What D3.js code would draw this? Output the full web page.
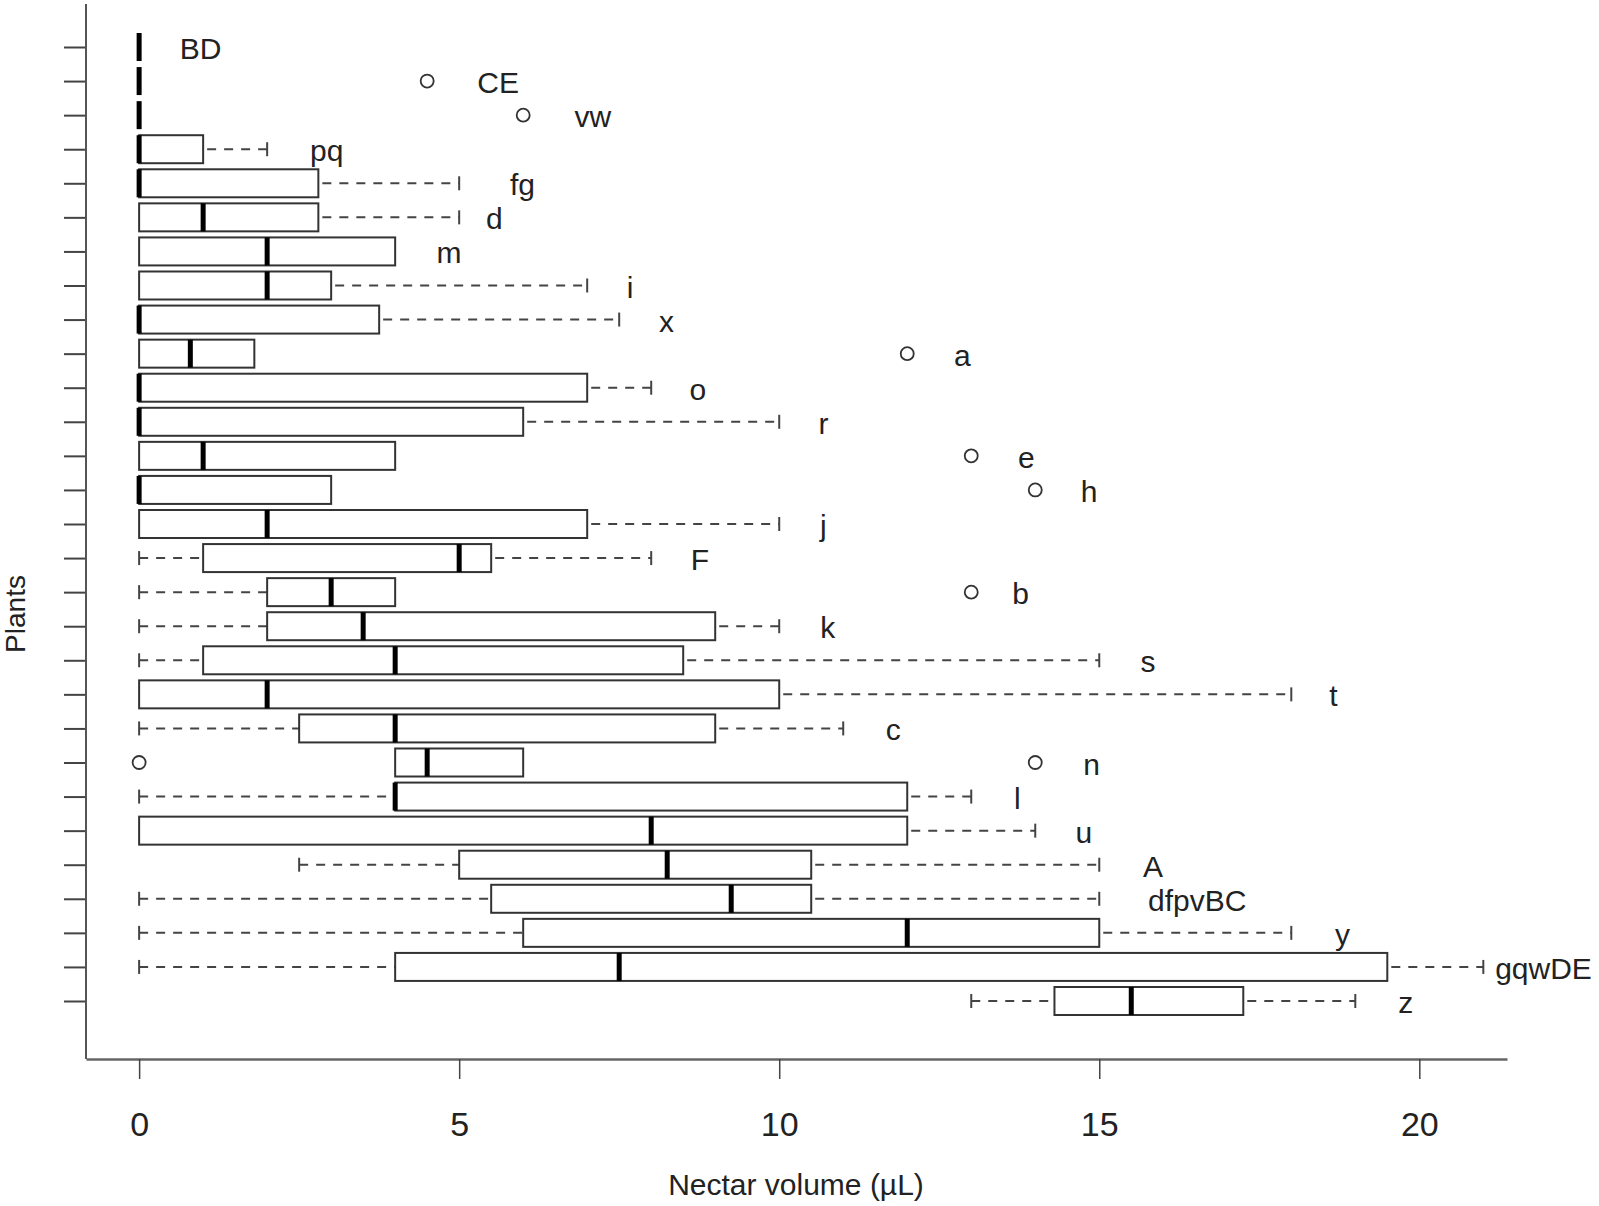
<!DOCTYPE html>
<html>
<head>
<meta charset="utf-8">
<script src="https://cdn.jsdelivr.net/npm/d3@7"></script>
<style>
  body { margin: 0; background: #fff; }
  text { font-family: "Liberation Sans", Arial, sans-serif; fill: #222; }
</style>
</head>
<body>
<div id="chart"></div>
<script>
// plants, top to bottom
var plants = ["BD","CE","vw","pq","fg","d","m","i","x","a","o","r","e","h","j",
  "F","b","k","s","t","c","n","l","u","A","dfpvBC","y","gqwDE","z"];

// five number summaries (µL)
var whiskLow = [0,0,0,0,0,0,0,0,0,0,0,0,0,0,0,0,0,0,0,0,0,4,0,0,2.5,0,0,0,13];
var q1       = [0,0,0,0,0,0,0,0,0,0,0,0,0,0,0,1,2,2,1,0,2.5,4,4,0,5,5.5,6,4,14.3];
var medians  = [0,0,0,0,0,1,2,2,0,0.8,0,0,1,0,2,5,3,3.5,4,2,4,4.5,4,8,8.25,9.25,12,7.5,15.5];
var q3       = [0,0,0,1,2.8,2.8,4,3,3.75,1.8,7,6,4,3,7,5.5,4,9,8.5,10,9,6,12,12,10.5,10.5,15,19.5,17.25];
var whiskHigh= [0,0,0,2,5,5,4,7,7.5,1.8,8,10,4,3,10,8,4,10,15,18,11,6,13,14,15,15,18,21,19];
var outliers = [[],[4.5],[6],[],[],[],[],[],[],[12],[],[],[13],[14],[],
  [],[13],[],[],[],[],[0,14],[],[],[],[],[],[],[]];

// where each letter label sits along the x axis (µL)
var labelX = [0.96,5.61,7.09,2.93,5.99,5.55,4.84,7.67,8.24,12.86,8.73,10.69,13.86,14.84,10.69,
  8.76,13.77,10.76,15.76,18.66,11.78,14.88,13.72,14.76,15.84,16.53,18.8,21.94,19.79];

var xTicks = [0, 5, 10, 15, 20];

var svgWidth = 1599;
var svgHeight = 1206;

var svg = d3.select("#chart")
  .append("svg")
  .attr("width", svgWidth)
  .attr("height", svgHeight);

var xScale = d3.scaleLinear()
  .domain([-0.83, 21.37])
  .range([86, 1507]);

var yScale = d3.scalePoint()
  .domain(plants)
  .range([47, 1001]);

var boxH = 28;
var axisY = 1059;

// axes
var bottomAxis = d3.axisBottom(xScale)
  .tickValues(xTicks)
  .tickSize(20)
  .tickSizeOuter(0);

var xAxisG = svg.append("g")
  .attr("transform", `translate(0, ${axisY})`)
  .call(bottomAxis);
xAxisG.select(".domain").attr("stroke", "#666").attr("stroke-width", 2.5);
xAxisG.selectAll(".tick line").attr("stroke", "#444").attr("stroke-width", 1.5);
xAxisG.selectAll(".tick text")
  .attr("y", 77)
  .attr("dy", 0)
  .attr("font-size", "34px")
  .attr("font-family", "Liberation Sans, Arial, sans-serif")
  .attr("fill", "#222");

var leftAxis = d3.axisLeft(yScale)
  .tickSize(22)
  .tickFormat("");

var yAxisG = svg.append("g")
  .attr("transform", "translate(86, 0)")
  .call(leftAxis);
yAxisG.select(".domain").remove();
yAxisG.selectAll(".tick line").attr("stroke", "#444").attr("stroke-width", 2);

svg.append("line")
  .attr("x1", 86).attr("x2", 86)
  .attr("y1", 4).attr("y2", axisY)
  .attr("stroke", "#555")
  .attr("stroke-width", 2);

// boxes
var rows = plants.map(function(p, i) {
  return {
    name: p,
    lo: whiskLow[i], q1: q1[i], med: medians[i], q3: q3[i], hi: whiskHigh[i],
    out: outliers[i], lx: labelX[i]
  };
});

var rowG = svg.selectAll("g.row")
  .data(rows)
  .enter()
  .append("g")
  .attr("class", "row")
  .attr("transform", d => `translate(0, ${yScale(d.name)})`);

// lower whisker
rowG.filter(d => d.lo < d.q1)
  .append("line")
  .attr("x1", d => xScale(d.lo))
  .attr("x2", d => xScale(d.q1))
  .attr("stroke", "#444")
  .attr("stroke-width", 2)
  .attr("stroke-dasharray", "9,8");

rowG.filter(d => d.lo < d.q1)
  .append("line")
  .attr("x1", d => xScale(d.lo))
  .attr("x2", d => xScale(d.lo))
  .attr("y1", -7).attr("y2", 7)
  .attr("stroke", "#444")
  .attr("stroke-width", 2);

// upper whisker
rowG.filter(d => d.hi > d.q3)
  .append("line")
  .attr("x1", d => xScale(d.q3))
  .attr("x2", d => xScale(d.hi))
  .attr("stroke", "#444")
  .attr("stroke-width", 2)
  .attr("stroke-dasharray", "9,8")
  .attr("stroke-dashoffset", -4);

rowG.filter(d => d.hi > d.q3)
  .append("line")
  .attr("x1", d => xScale(d.hi))
  .attr("x2", d => xScale(d.hi))
  .attr("y1", -7).attr("y2", 7)
  .attr("stroke", "#444")
  .attr("stroke-width", 2);

// box
rowG.filter(d => d.q3 > d.q1)
  .append("rect")
  .attr("x", d => xScale(d.q1))
  .attr("width", d => xScale(d.q3) - xScale(d.q1))
  .attr("y", -boxH / 2)
  .attr("height", boxH)
  .attr("fill", "#fff")
  .attr("stroke", "#333")
  .attr("stroke-width", 2);

// median
rowG.append("line")
  .attr("x1", d => xScale(d.med))
  .attr("x2", d => xScale(d.med))
  .attr("y1", -boxH / 2).attr("y2", boxH / 2)
  .attr("stroke", "#000")
  .attr("stroke-width", 5);

// outliers
rowG.selectAll("circle")
  .data(d => d.out)
  .enter()
  .append("circle")
  .attr("cx", d => xScale(d))
  .attr("cy", 0)
  .attr("r", 6.5)
  .attr("fill", "none")
  .attr("stroke", "#333")
  .attr("stroke-width", 1.8);

// letter labels
rowG.append("text")
  .attr("x", d => xScale(d.lx))
  .attr("y", 12)
  .attr("text-anchor", "middle")
  .attr("font-size", "30px")
  .text(d => d.name);

// axis titles
svg.append("text")
  .attr("transform", "translate(25, 614) rotate(-90)")
  .attr("text-anchor", "middle")
  .attr("font-size", "28px")
  .text("Plants");

svg.append("text")
  .attr("x", 796)
  .attr("y", 1195)
  .attr("text-anchor", "middle")
  .attr("font-size", "30px")
  .text("Nectar volume (µL)");
</script>
</body>
</html>
